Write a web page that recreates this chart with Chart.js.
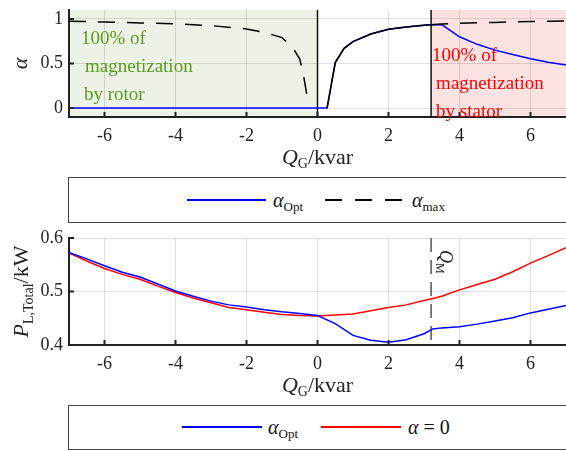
<!DOCTYPE html>
<html>
<head>
<meta charset="utf-8">
<script src="https://cdn.jsdelivr.net/npm/chart.js@4.4.0/dist/chart.umd.min.js"></script>
<style>
body { margin: 0; width: 566px; height: 450px; overflow: hidden; background: #fff; position: relative; font-family: 'Liberation Serif', 'DejaVu Serif', serif; }
canvas { position: absolute; left: 0; }
#topChart { top: 0; }
#bottomChart { top: 228px; }
.box { position: absolute; left: 68px; width: 520px; border: 1.5px solid #444; box-sizing: border-box; }
.ln { position: absolute; height: 2px; }
.dash { background: repeating-linear-gradient(90deg, #000 0 17px, transparent 17px 30px); }
.lab { position: absolute; font-size: 20px; line-height: 1; white-space: nowrap; color: #111; }
.lab i { font-style: italic; }
.lab sub { font-size: 13px; vertical-align: -4px; font-style: normal; }
</style>
</head>
<body>
<canvas id="topChart" width="566" height="172"></canvas>
<canvas id="bottomChart" width="566" height="172"></canvas>

<div class="box" style="top:177px;height:46px"></div>
<div class="ln" style="left:187px;top:199px;width:79px;background:#0000ff"></div>
<div class="lab" style="left:273px;top:190px"><i>α</i><sub>Opt</sub></div>
<div class="ln dash" style="left:325px;top:199px;width:79px"></div>
<div class="lab" style="left:412px;top:190px"><i>α</i><sub>max</sub></div>

<div class="box" style="top:405px;height:45px"></div>
<div class="ln" style="left:182px;top:426px;width:80px;background:#0000ff"></div>
<div class="lab" style="left:268px;top:417px"><i>α</i><sub>Opt</sub></div>
<div class="ln" style="left:321px;top:426px;width:80px;background:#ff0000"></div>
<div class="lab" style="left:408px;top:417px"><i>α</i> = 0</div>

<script>
// top plot: modulation index alpha vs Q_G
const qTop = [-7, -6, -5, -4, -3, -2, -1.5, -1, -0.7, -0.5, -0.4, -0.28, 0, 0.27, 0.5, 0.75, 1, 1.5, 2, 2.5, 3, 3.2, 3.5, 4, 4.5, 5, 5.5, 6, 6.5, 7];
const alphaOpt = [0, 0, 0, 0, 0, 0, 0, 0, 0, 0, 0, 0, 0, 0, 0.51, 0.67, 0.745, 0.83, 0.885, 0.91, 0.928, 0.935, 0.937, 0.80, 0.715, 0.65, 0.60, 0.553, 0.515, 0.483];
const alphaMax = [0.974, 0.965, 0.955, 0.945, 0.925, 0.888, 0.85, 0.79, 0.68, 0.55, 0.38, 0.1, null, 0, 0.51, 0.67, 0.745, 0.83, 0.885, 0.91, 0.928, 0.935, 0.942, 0.95, 0.956, 0.961, 0.966, 0.97, 0.974, 0.978];

// bottom plot: total losses
const qBottom = [-7, -6.5, -6, -5.5, -5, -4.5, -4, -3.5, -3, -2.5, -2, -1.5, -1, -0.5, 0, 0.5, 1, 1.5, 2, 2.5, 3, 3.25, 3.5, 4, 4.5, 5, 5.5, 6, 6.5, 7];
const lossOpt = [0.573, 0.561, 0.548, 0.536, 0.527, 0.514, 0.501, 0.491, 0.482, 0.475, 0.471, 0.466, 0.462, 0.459, 0.455, 0.440, 0.418, 0.409, 0.405, 0.410, 0.421, 0.430, 0.432, 0.434, 0.439, 0.445, 0.451, 0.460, 0.467, 0.474];
const lossZero = [0.572, 0.557, 0.543, 0.532, 0.523, 0.510, 0.498, 0.488, 0.479, 0.470, 0.466, 0.461, 0.457, 0.455, 0.454, 0.456, 0.458, 0.464, 0.470, 0.475, 0.483, 0.487, 0.491, 0.503, 0.513, 0.523, 0.537, 0.553, 0.567, 0.582];

const xTicks = [-6, -4, -2, 0, 2, 4, 6];
const alphaTicks = [0, 0.5, 1];
const lossTicks = [0.4, 0.5, 0.6];
const qM = 3.2;        // boundary rotor / stator magnetization
const riseStart = 0.27;
const rotorNote = ['100% of', 'magnetization', 'by rotor'];
const statorNote = ['100% of', 'magnetization', 'by stator'];

const SERIF = "'Liberation Serif', 'DejaVu Serif', serif";

function pts(xs, ys) {
    return xs.map((x, i) => ({x: x, y: ys[i]}));
}

function richText(ctx, parts, x, y, align) {
    let w = 0;
    parts.forEach(p => { ctx.font = p.f; w += ctx.measureText(p.t).width; });
    let cx = align === 'center' ? x - w / 2 : x;
    parts.forEach(p => {
        ctx.font = p.f;
        ctx.fillText(p.t, cx, y + (p.dy || 0));
        cx += ctx.measureText(p.t).width;
    });
}

const qTitle = [
    {t: 'Q', f: 'italic 22px ' + SERIF},
    {t: 'G', f: '14px ' + SERIF, dy: 4},
    {t: '/kvar', f: '22px ' + SERIF}
];

function xScale() {
    return {
        type: 'linear', min: -7, max: 7,
        afterBuildTicks: s => { s.ticks = xTicks.map(v => ({value: v})); },
        afterFit: s => { s.height = 55; s.paddingLeft = 0; s.paddingRight = 0; },
        grid: {color: 'rgba(0,0,0,0.12)', drawTicks: false},
        border: {color: '#222', width: 2},
        ticks: {font: {family: SERIF, size: 18}, color: '#222', padding: 8, maxRotation: 0,
            callback: v => String(v)}
    };
}

function yScale(min, max, ticks, fmt) {
    return {
        type: 'linear', min: min, max: max,
        afterBuildTicks: s => { s.ticks = ticks.map(v => ({value: v})); },
        afterFit: s => { s.width = 69; s.paddingTop = 0; s.paddingBottom = 0; },
        grid: {color: 'rgba(0,0,0,0.12)', drawTicks: false},
        border: {color: '#222', width: 2},
        ticks: {font: {family: SERIF, size: 18}, color: '#222', padding: 6, callback: fmt}
    };
}

// inward tick marks like the original
function innerTicks(chart) {
    const ctx = chart.ctx, a = chart.chartArea;
    const xs = chart.scales.x, ys = chart.scales.y;
    ctx.save();
    ctx.strokeStyle = '#222';
    ctx.lineWidth = 2;
    ctx.beginPath();
    xTicks.forEach(v => {
        const px = xs.getPixelForValue(v);
        ctx.moveTo(px, a.bottom); ctx.lineTo(px, a.bottom - 5);
    });
    ys.ticks.forEach(t => {
        const py = ys.getPixelForValue(t.value);
        ctx.moveTo(a.left, py); ctx.lineTo(a.left + 5, py);
    });
    ctx.stroke();
    ctx.restore();
}

const topDeco = {
    id: 'topDeco',
    beforeDraw(chart) {
        const ctx = chart.ctx, a = chart.chartArea, xs = chart.scales.x;
        const x0 = xs.getPixelForValue(0), xm = xs.getPixelForValue(qM);
        ctx.save();
        ctx.fillStyle = '#edf2e7';
        ctx.fillRect(a.left, a.top, x0 - a.left, a.bottom - a.top);
        ctx.fillStyle = '#fde2e2';
        ctx.fillRect(xm, a.top, a.right - xm, a.bottom - a.top);
        ctx.restore();
    },
    beforeDatasetsDraw(chart) {
        const ctx = chart.ctx, a = chart.chartArea, xs = chart.scales.x;
        ctx.save();
        ctx.strokeStyle = '#111';
        ctx.lineWidth = 1.5;
        [0, qM].forEach(v => {
            const px = xs.getPixelForValue(v);
            ctx.beginPath(); ctx.moveTo(px, a.top); ctx.lineTo(px, a.bottom); ctx.stroke();
        });
        ctx.font = '19px ' + SERIF;
        ctx.textBaseline = 'alphabetic';
        ctx.fillStyle = '#5a9a1e';
        const gx = xs.getPixelForValue(-7);
        [12, 16, 15].forEach((dx, i) => ctx.fillText(rotorNote[i], gx + dx, a.top + 34 + i * 28));
        ctx.fillStyle = '#ff0000';
        const rx = xs.getPixelForValue(qM);
        [1, 5, 5].forEach((dx, i) => ctx.fillText(statorNote[i], rx + dx, a.top + 51 + i * 28));
        ctx.restore();
    },
    afterDraw(chart) {
        const ctx = chart.ctx;
        innerTicks(chart);
        ctx.save();
        ctx.fillStyle = '#222';
        ctx.textBaseline = 'alphabetic';
        richText(ctx, qTitle, (chart.chartArea.left + chart.chartArea.right) / 2, 164, 'center');
        ctx.translate(27, (chart.chartArea.top + chart.chartArea.bottom) / 2);
        ctx.rotate(-Math.PI / 2);
        richText(ctx, [{t: 'α', f: 'italic 22px ' + SERIF}], 0, 0, 'center');
        ctx.restore();
    }
};

const bottomDeco = {
    id: 'bottomDeco',
    beforeDatasetsDraw(chart) {
        const ctx = chart.ctx, a = chart.chartArea, xs = chart.scales.x;
        const px = xs.getPixelForValue(qM);
        ctx.save();
        ctx.strokeStyle = '#555';
        ctx.lineWidth = 1.5;
        ctx.setLineDash([14, 8]);
        ctx.beginPath(); ctx.moveTo(px, a.top); ctx.lineTo(px, a.bottom); ctx.stroke();
        ctx.restore();
    },
    afterDraw(chart) {
        const ctx = chart.ctx, a = chart.chartArea, xs = chart.scales.x;
        innerTicks(chart);
        ctx.save();
        ctx.fillStyle = '#222';
        ctx.textBaseline = 'alphabetic';
        richText(ctx, qTitle, (a.left + a.right) / 2, 164, 'center');
        // Q_M label next to the dashed line
        ctx.save();
        ctx.translate(xs.getPixelForValue(qM) + 9, a.top + 12);
        ctx.rotate(Math.PI / 2);
        richText(ctx, [
            {t: 'Q', f: 'italic 18px ' + SERIF},
            {t: 'M', f: '12px ' + SERIF, dy: 4}
        ], 0, 0, 'left');
        ctx.restore();
        ctx.translate(28, (a.top + a.bottom) / 2);
        ctx.rotate(-Math.PI / 2);
        richText(ctx, [
            {t: 'P', f: 'italic 22px ' + SERIF},
            {t: 'L,Total', f: '14px ' + SERIF, dy: 5},
            {t: '/kW', f: '22px ' + SERIF}
        ], 0, 0, 'center');
        ctx.restore();
    }
};

new Chart(document.getElementById('topChart'), {
    type: 'line',
    data: {
        datasets: [{
            label: 'alpha_max',
            data: pts(qTop, alphaMax),
            borderColor: '#000',
            borderWidth: 1.5,
            borderDash: [17, 12],
            segment: {
                borderDash: c => (c.p0.parsed.x >= riseStart && c.p1.parsed.x <= qM) ? [] : undefined
            },
            pointRadius: 0,
            spanGaps: false
        }, {
            label: 'alpha_opt',
            data: pts(qTop, alphaOpt),
            borderColor: '#0000ff',
            borderWidth: 1.5,
            pointRadius: 0
        }]
    },
    options: {
        responsive: false,
        animation: false,
        layout: {padding: {top: 10, left: 0, right: 0, bottom: 0}},
        plugins: {legend: {display: false}, tooltip: {enabled: false}},
        scales: {
            x: xScale(),
            y: yScale(-0.1, 1.1, alphaTicks, v => String(v))
        }
    },
    plugins: [topDeco]
});

new Chart(document.getElementById('bottomChart'), {
    type: 'line',
    data: {
        datasets: [{
            label: 'alpha_opt',
            data: pts(qBottom, lossOpt),
            borderColor: '#0000ff',
            borderWidth: 1.5,
            pointRadius: 0
        }, {
            label: 'alpha = 0',
            data: pts(qBottom, lossZero),
            borderColor: '#ff0000',
            borderWidth: 1.5,
            pointRadius: 0
        }]
    },
    options: {
        responsive: false,
        animation: false,
        layout: {padding: {top: 10, left: 0, right: 0, bottom: 0}},
        plugins: {legend: {display: false}, tooltip: {enabled: false}},
        scales: {
            x: xScale(),
            y: yScale(0.4, 0.6, lossTicks, v => v.toFixed(1))
        }
    },
    plugins: [bottomDeco]
});
</script>
</body>
</html>
